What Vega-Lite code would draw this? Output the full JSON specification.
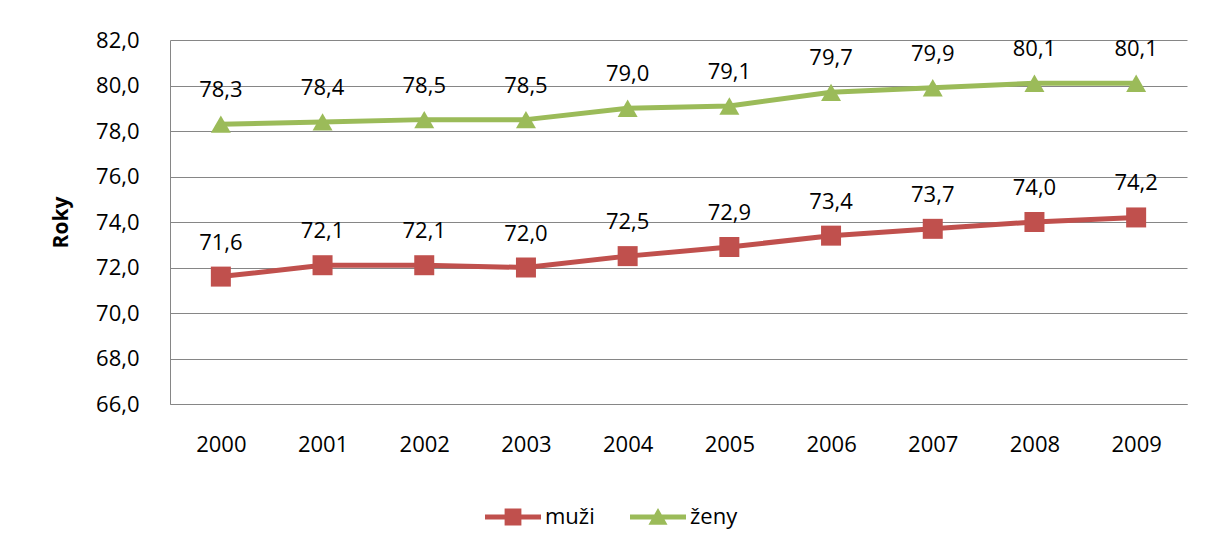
{
  "$schema": "https://vega.github.io/schema/vega-lite/v6.json",
  "width": 1017,
  "height": 364,
  "autosize": {"type": "none"},
  "padding": {"left": 170, "top": 40, "right": 18, "bottom": 145},
  "background": "white",
  "config": {
    "view": {"stroke": null},
    "font": "Open Sans",
    "locale": {"number": {"decimal": ",", "thousands": " ", "grouping": [3], "currency": ["", " Kč"]}},
    "axis": {"labelFont": "Open Sans", "labelFontSize": 22, "labelColor": "#000000", "titleFont": "Open Sans"}
  },
  "data": {
    "values": [
      {"year": "2000", "series": "muži", "value": 71.6},
      {"year": "2001", "series": "muži", "value": 72.1},
      {"year": "2002", "series": "muži", "value": 72.1},
      {"year": "2003", "series": "muži", "value": 72.0},
      {"year": "2004", "series": "muži", "value": 72.5},
      {"year": "2005", "series": "muži", "value": 72.9},
      {"year": "2006", "series": "muži", "value": 73.4},
      {"year": "2007", "series": "muži", "value": 73.7},
      {"year": "2008", "series": "muži", "value": 74.0},
      {"year": "2009", "series": "muži", "value": 74.2},
      {"year": "2000", "series": "ženy", "value": 78.3},
      {"year": "2001", "series": "ženy", "value": 78.4},
      {"year": "2002", "series": "ženy", "value": 78.5},
      {"year": "2003", "series": "ženy", "value": 78.5},
      {"year": "2004", "series": "ženy", "value": 79.0},
      {"year": "2005", "series": "ženy", "value": 79.1},
      {"year": "2006", "series": "ženy", "value": 79.7},
      {"year": "2007", "series": "ženy", "value": 79.9},
      {"year": "2008", "series": "ženy", "value": 80.1},
      {"year": "2009", "series": "ženy", "value": 80.1}
    ]
  },
  "encoding": {
    "x": {
      "field": "year", "type": "ordinal",
      "scale": {"paddingInner": 0, "paddingOuter": 0},
      "axis": {"title": null, "labelAngle": 0, "ticks": false, "domain": true, "domainColor": "#868686", "domainWidth": 1, "grid": false, "labelPadding": 30}
    },
    "y": {
      "field": "value", "type": "quantitative",
      "scale": {"domain": [66, 82], "nice": false, "zero": false},
      "axis": {"title": "Roky", "titleFontSize": 21, "titleFontWeight": "bold", "titleColor": "#000000", "titlePadding": 24,
               "values": [66, 68, 70, 72, 74, 76, 78, 80, 82], "format": ".1f",
               "ticks": false, "labelPadding": 31, "domain": true, "domainColor": "#868686", "domainWidth": 1,
               "grid": true, "gridColor": "#868686", "gridWidth": 1, "gridOpacity": 1}
    }
  },
  "layer": [
    {
      "mark": {"type": "line", "strokeWidth": 5, "strokeCap": "round", "strokeJoin": "round"},
      "encoding": {
        "stroke": {"field": "series", "type": "nominal", "scale": {"domain": ["muži", "ženy"], "range": ["#C0504D", "#9BBB59"]}, "legend": null}
      }
    },
    {
      "mark": {"type": "point", "filled": true, "opacity": 1, "size": 400, "strokeWidth": 0},
      "encoding": {
        "fill": {"field": "series", "type": "nominal", "scale": {"domain": ["muži", "ženy"], "range": ["#C0504D", "#9BBB59"]}, "legend": null},
        "shape": {"field": "series", "type": "nominal", "scale": {"domain": ["muži", "ženy"], "range": ["square", "triangle-up"]}, "legend": null}
      }
    },
    {
      "mark": {"type": "text", "dy": -34, "fontSize": 22, "font": "Open Sans", "color": "#000000", "baseline": "middle"},
      "encoding": {
        "text": {"field": "value", "type": "quantitative", "format": ".1f"}
      }
    },
    {
      "transform": [{"filter": "false"}],
      "mark": {"type": "point", "filled": true, "opacity": 1, "strokeWidth": 0, "fill": "#C0504D", "color": "#C0504D"},
      "encoding": {
        "shape": {"field": "series", "type": "nominal",
          "scale": {"domain": ["muži"], "range": ["M-1,-0.09H1V0.09H-1Z M-0.3,-0.3H0.3V0.3H-0.3Z"]},
          "legend": {"title": null, "orient": "none", "legendX": 315, "legendY": 449,
                     "symbolSize": 3136, "symbolStrokeWidth": 0, "labelFontSize": 22, "labelFont": "Open Sans", "labelColor": "#000000",
                     "labelOffset": 4, "padding": 0}
        }
      }
    },
    {
      "transform": [{"filter": "false"}],
      "mark": {"type": "point", "filled": true, "opacity": 1, "strokeWidth": 0, "fill": "#9BBB59", "color": "#9BBB59"},
      "encoding": {
        "shape": {"field": "series", "type": "nominal",
          "scale": {"domain": ["ženy"], "range": ["M-1,-0.09H1V0.09H-1Z M-0.34,0.28L0,-0.32L0.34,0.28Z"]},
          "legend": {"title": null, "orient": "none", "legendX": 460, "legendY": 449,
                     "symbolSize": 3136, "symbolStrokeWidth": 0, "labelFontSize": 22, "labelFont": "Open Sans", "labelColor": "#000000",
                     "labelOffset": 4, "padding": 0}
        }
      }
    }
  ],
  "resolve": {"scale": {"shape": "independent"}, "legend": {"shape": "independent"}}
}
